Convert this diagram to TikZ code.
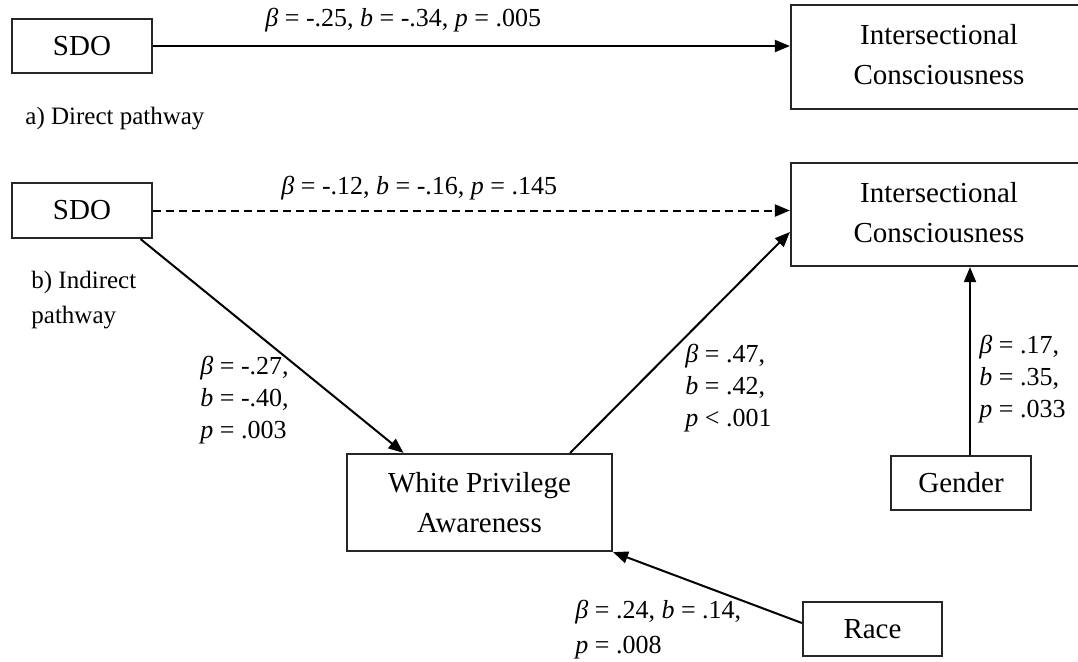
\documentclass[tikz,border=0pt]{standalone}
\usepackage{fontspec}
\setmainfont{Liberation Serif}
\usetikzlibrary{arrows.meta,calc}
\begin{document}
\begin{tikzpicture}[x=0.5pt,y=-0.5pt,
  boxnode/.style={draw=black!85, line width=1.1pt, inner sep=0pt, align=center,
    font=\fontsize{14.5}{20}\selectfont},
  boxtext/.style={inner sep=0pt, align=center, font=\fontsize{14.5}{20}\selectfont},
  coef/.style={inner sep=0pt, anchor=west, align=left, font=\fontsize{13}{16}\selectfont},
  conn/.style={line width=1pt, -{Triangle[length=7.5pt,width=6pt]}},
  dconn/.style={conn, dash pattern=on 4pt off 2.5pt}]
\useasboundingbox (0,0) rectangle (1078,661);
\clip (0,0) rectangle (1078,661);
\fill[white] (0,0) rectangle (1078,661);

% a) direct pathway
\node[boxnode, minimum width=70pt, minimum height=27pt] (sdoA) at (82,46) {SDO};
\node[boxnode, minimum width=149.5pt, minimum height=52pt] (icA) at (940.5,57) {};
\node[boxtext] (icAt) at (939,55) {Intersectional\\Consciousness};
\draw[conn] (sdoA.east) -- (sdoA.east -| icA.west);
\node[coef] (lA) at (265,20) {\textit{β} = -.25, \textit{b} = -.34, \textit{p} = .005};
\node[coef, font=\fontsize{12.5}{16}\selectfont] (capA) at (25,119) {a) Direct pathway};

% b) indirect pathway
\node[boxnode, minimum width=70pt, minimum height=27.5pt] (sdoB) at (82,210.5) {SDO};
\node[boxnode, minimum width=149.5pt, minimum height=51.5pt] (icB) at (940.5,214.5) {};
\node[boxtext] (icBt) at (939,213) {Intersectional\\Consciousness};
\node[boxnode, minimum width=132.5pt, minimum height=48.5pt] (wpa) at (479.5,502.5) {White Privilege\\Awareness};
\node[boxnode, minimum width=70pt, minimum height=27pt] (gender) at (961,483) {Gender};
\node[boxnode, minimum width=69.5pt, minimum height=27pt] (race) at (872.5,629) {Race};

\draw[dconn] (sdoB.east) -- (sdoB.east -| icB.west);
\node[coef] (lB) at (281,188) {\textit{β} = -.12, \textit{b} = -.16, \textit{p} = .145};
\node[coef, font=\fontsize{12.5}{17.5}\selectfont] (capB) at (31,300) {b) Indirect\\pathway};

\coordinate (s1) at ($(sdoB.south east)+(-12.5,0)$);
\coordinate (w1) at ($(wpa.north west)+(57.6,0)$);
\draw[conn] (s1) -- (w1);
\node[coef] (lC) at (200,400) {\textit{β} = -.27,\\\textit{b} = -.40,\\\textit{p} = .003};

\coordinate (w2) at ($(wpa.north east)+(-43,0)$);
\coordinate (i2) at ($(icB.west)+(0,17.5)$);
\draw[conn] (w2) -- (i2);
\node[coef] (lD) at (685,388) {\textit{β} = .47,\\\textit{b} = .42,\\\textit{p} {\textless} .001};

\coordinate (g1) at ($(gender.north)+(9,0)$);
\draw[conn] (g1) -- (g1 |- icB.south);
\node[coef] (lE) at (979,379) {\textit{β} = .17,\\\textit{b} = .35,\\\textit{p} = .033};

\coordinate (r1) at ($(race.west)+(0,-6)$);
\draw[conn] (r1) -- (wpa.south east);
\node[coef, font=\fontsize{13}{17.5}\selectfont] (lF) at (575,630) {\textit{β} = .24, \textit{b} = .14,\\\textit{p} = .008};
\end{tikzpicture}
\end{document}
